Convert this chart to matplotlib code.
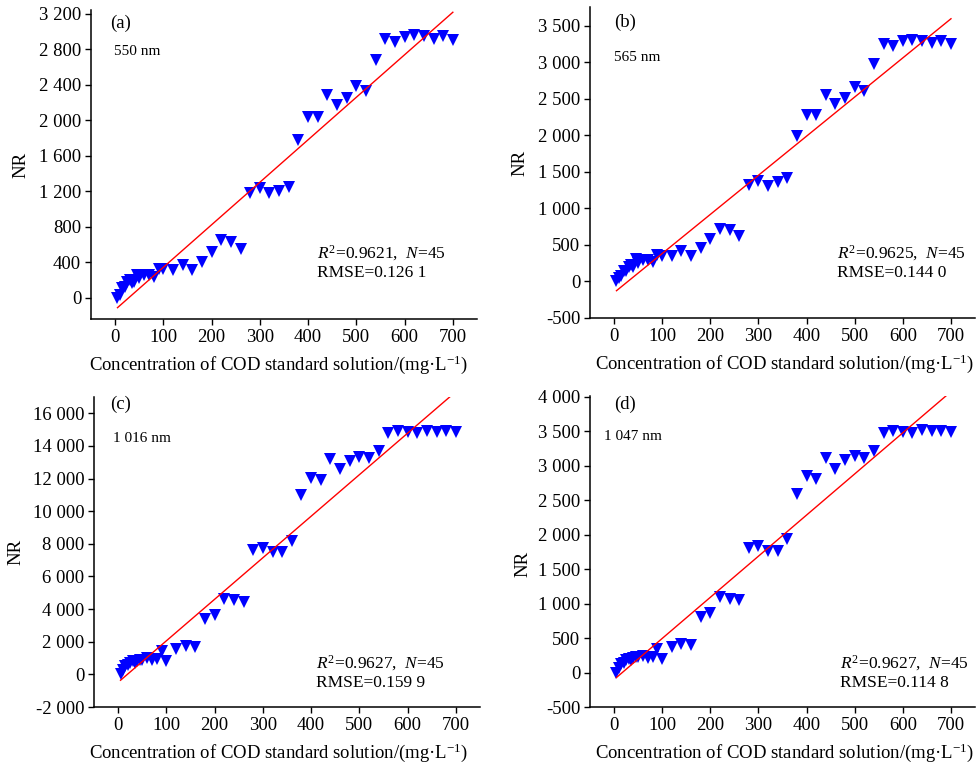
import matplotlib
matplotlib.use('Agg')
import matplotlib.pyplot as plt
from matplotlib.ticker import FuncFormatter
import numpy as np

plt.rcParams['font.family'] = ['Liberation Serif', 'DejaVu Serif']
plt.rcParams['mathtext.fontset'] = 'custom'
plt.rcParams['mathtext.rm'] = 'Liberation Serif'
plt.rcParams['mathtext.it'] = 'Liberation Serif:italic'
plt.rcParams['axes.unicode_minus'] = False

# COD concentration (mg/L)
conc = [5, 10, 15, 20, 25, 30, 35, 40, 45, 50, 60, 70, 80, 90, 100,
        120, 140, 160, 180, 200, 220, 240, 260, 280, 300, 320, 340, 360, 380, 400,
        420, 440, 460, 480, 500, 520, 540, 560, 580, 600, 620, 640, 660, 680, 700]

# NR at each wavelength
nr_550 = [0, 30, 105, 124, 180, 200, 162, 180, 256, 218, 256, 256, 237, 320, 320,
          312, 369, 312, 406, 511, 651, 632, 545, 1177, 1233, 1177, 1207, 1252, 1779, 2042,
          2042, 2287, 2174, 2249, 2388, 2335, 2681, 2918, 2888, 2945, 2964, 2952, 2918, 2952, 2907]
nr_565 = [0, 46, 78, 137, 137, 205, 228, 205, 306, 251, 288, 288, 260, 365, 351,
          351, 424, 351, 456, 580, 717, 707, 616, 1324, 1378, 1314, 1356, 1415, 1994, 2282,
          2282, 2556, 2433, 2510, 2661, 2602, 2980, 3250, 3227, 3300, 3309, 3300, 3272, 3300, 3254]
nr_1016 = [0, 286, 490, 592, 694, 796, 694, 796, 898, 898, 1000, 898, 939, 1408, 796,
           1551, 1714, 1673, 3388, 3653, 4633, 4531, 4408, 7633, 7735, 7469, 7490, 8163, 11000, 12061,
           11918, 13204, 12571, 13102, 13306, 13245, 13714, 14776, 14918, 14837, 14776, 14939, 14878, 14918, 14837]
nr_1047 = [0, 72, 120, 145, 183, 202, 183, 217, 231, 231, 241, 217, 231, 337, 202,
           371, 410, 400, 805, 867, 1099, 1070, 1046, 1807, 1831, 1769, 1769, 1937, 2593, 2843,
           2810, 3108, 2954, 3080, 3133, 3108, 3219, 3470, 3504, 3489, 3470, 3518, 3504, 3508, 3494]

panel_tags = ['(a)', '(b)', '(c)', '(d)']
wavelengths = ['550 nm', '565 nm', '1 016 nm', '1 047 nm']
r2_text = ['0.9621', '0.9625', '0.9627', '0.9627']
rmse_text = ['0.126 1', '0.144 0', '0.159 9', '0.114 8']
series = [nr_550, nr_565, nr_1016, nr_1047]

y_limits = [(-240, 3245), (-500, 3760), (-2000, 17000), (-500, 4010)]
y_ticks = [np.arange(0, 3201, 400), np.arange(-500, 3501, 500),
           np.arange(-2000, 16001, 2000), np.arange(-500, 4001, 500)]

boxes = [[0.0931, 0.5825, 0.3951, 0.4045],
         [0.6039, 0.5838, 0.3941, 0.4071],
         [0.0962, 0.0746, 0.3951, 0.4058],
         [0.6039, 0.0746, 0.3941, 0.4071]]
tag_pos = [(0.049, 0.958), (0.062, 0.949), (0.041, 0.977), (0.062, 0.974)]
wl_pos = [(0.060, 0.867), (0.062, 0.839), (0.049, 0.865), (0.036, 0.871)]
stat_pos = [(0.585, 0.214, 0.149), (0.642, 0.209, 0.145),
            (0.575, 0.142, 0.077), (0.649, 0.141, 0.077)]
ylabel_pos = [(-0.16, 0.498), (-0.161, 0.50), (-0.181, 0.50), (-0.151, 0.46)]
xlabel_x = [0.485, 0.506, 0.477, 0.506]


def thousands(v, pos):
    s = '{:,}'.format(abs(int(round(v)))).replace(',', ' ')
    return '-' + s if v < 0 else s


fig = plt.figure(figsize=(9.77, 7.64), dpi=100)

x = np.array(conc, dtype=float)
for i in range(4):
    ax = fig.add_axes(boxes[i])
    y = np.array(series[i], dtype=float)
    k, b = np.polyfit(x, y, 1)
    xx = np.array([x[0], x[-1]])
    ax.plot(xx, k * xx + b, color='#ff0000', lw=1.0, zorder=3)
    ax.plot(x, y, linestyle='none', marker='v', markersize=8,
            color='#0000ff', markeredgewidth=0, zorder=2)

    ax.set_xlim(-50, 750)
    ax.set_ylim(*y_limits[i])
    ax.set_xticks(np.arange(0, 701, 100))
    ax.set_yticks(y_ticks[i])
    ax.yaxis.set_major_formatter(FuncFormatter(thousands))
    ax.spines['top'].set_visible(False)
    ax.spines['right'].set_visible(False)
    for s in ['left', 'bottom']:
        ax.spines[s].set_linewidth(1.1)
    ax.tick_params(direction='out', length=4, width=1.0, labelsize=13.5, pad=3)

    ax.set_ylabel('NR', fontsize=13.5)
    ax.yaxis.set_label_coords(*ylabel_pos[i])
    ax.set_xlabel('Concentration of COD standard solution/(mg·L$^{-1}$)', fontsize=13.5)
    ax.xaxis.set_label_coords(xlabel_x[i], -0.112)

    ax.text(*tag_pos[i], panel_tags[i], transform=ax.transAxes,
            ha='left', va='center', fontsize=13.5)
    ax.text(*wl_pos[i], wavelengths[i], transform=ax.transAxes,
            ha='left', va='center', fontsize=11)
    sx, sy1, sy2 = stat_pos[i]
    ax.text(sx, sy1, '$R^2$=' + r2_text[i] + ',  $N$=45', transform=ax.transAxes,
            ha='left', va='center', fontsize=12.5)
    ax.text(sx, sy2, 'RMSE=' + rmse_text[i], transform=ax.transAxes,
            ha='left', va='center', fontsize=12.5)

fig.savefig('out.png', dpi=100)
